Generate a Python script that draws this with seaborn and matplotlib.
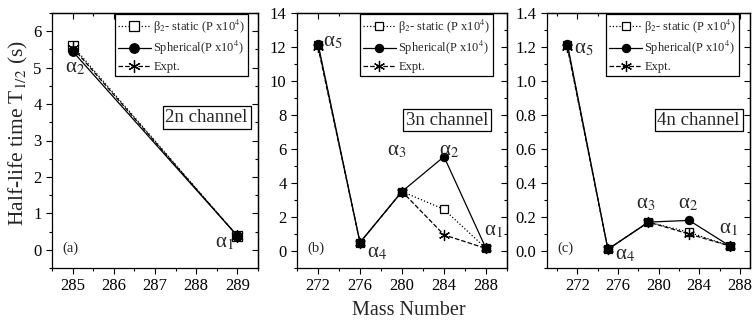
import numpy as np
import matplotlib
matplotlib.use("Agg")
import matplotlib.pyplot as plt
import seaborn as sns
from matplotlib.ticker import MultipleLocator, FormatStrFormatter, NullFormatter

sns.set_theme(style="ticks")
plt.rcParams['font.family'] = ['Liberation Serif', 'DejaVu Serif']
plt.rcParams['mathtext.fontset'] = 'stix'

# ---- data ----
mass_a = [285, 289]
beta_a = [5.60, 0.38]
sph_a = [5.45, 0.38]
expt_a = [5.55, 0.38]

mass_b = [272, 276, 280, 284, 288]
beta_b = [12.1, 0.5, 3.5, 2.45, 0.15]
sph_b = [12.2, 0.5, 3.5, 5.55, 0.15]
expt_b = [12.0, 0.5, 3.5, 0.95, 0.15]

mass_c = [271, 275, 279, 283, 287]
beta_c = [1.21, 0.01, 0.17, 0.11, 0.03]
sph_c = [1.22, 0.01, 0.17, 0.18, 0.03]
expt_c = [1.20, 0.01, 0.17, 0.10, 0.03]

labels_legend = ["β$_2$- static (P x10$^4$)", "Spherical(P x10$^4$)", "Expt."]
channels = ["2n channel", "3n channel", "4n channel"]
panel_tags = ["(a)", "(b)", "(c)"]

alpha_a = [("α$_2$", 285.05, 5.0), ("α$_1$", 288.69, 0.2)]
alpha_b = [("α$_5$", 273.4, 12.3), ("α$_4$", 277.6, -0.1),
           ("α$_3$", 279.5, 5.9), ("α$_2$", 284.5, 5.9),
           ("α$_1$", 288.7, 1.2)]
alpha_c = [("α$_5$", 272.6, 1.19), ("α$_4$", 276.7, -0.02),
           ("α$_3$", 278.7, 0.275), ("α$_2$", 282.9, 0.28),
           ("α$_1$", 286.9, 0.13)]

fig = plt.figure(figsize=(7.52, 3.3), dpi=100)
positions = [(52, 206), (297, 210), (547, 203)]
axes = []
for (l, w) in positions:
    axes.append(fig.add_axes([l / 752, 62 / 330, w / 752, 255 / 330]))

datasets = [(mass_a, beta_a, sph_a, expt_a), (mass_b, beta_b, sph_b, expt_b),
            (mass_c, beta_c, sph_c, expt_c)]
xlims = [(284.5, 289.5), (270, 290), (269, 289)]
ylims = [(-0.5, 6.5), (-1, 14), (-0.1, 1.4)]
xmaj = [1, 4, 4]
xmin = [0.5, 2, 2]
ymaj = [1, 2, 0.2]
ymin = [0.5, 1, 0.1]
yfmt = ["%d", "%d", "%.1f"]
alphas = [alpha_a, alpha_b, alpha_c]
box_x = [0.95, 0.91, 0.95]
box_y = [0.59, 0.58, 0.58]
leg_anchor = [(0.953, 0.995), (0.935, 0.995), (0.948, 0.995)]

asterisk = (6, 2, 0)
for i, ax in enumerate(axes):
    m, b, s, e = datasets[i]
    ms = 7 if i == 0 else 6
    sns.lineplot(x=m, y=b, ax=ax, color='black', linestyle=':', linewidth=0.9,
                 marker='s', markersize=ms, markerfacecolor='white',
                 markeredgecolor='black', markeredgewidth=0.9, label=labels_legend[0])
    sns.lineplot(x=m, y=s, ax=ax, color='black', linestyle='-', linewidth=0.9,
                 marker='o', markersize=ms, markerfacecolor='black',
                 markeredgecolor='black', label=labels_legend[1])
    sns.lineplot(x=m, y=e, ax=ax, color='black', linestyle='--', linewidth=0.9,
                 marker=asterisk, markersize=ms + 2, markeredgecolor='black',
                 markeredgewidth=0.9, label=labels_legend[2])
    ax.set_xlim(*xlims[i])
    ax.set_ylim(*ylims[i])
    ax.xaxis.set_major_locator(MultipleLocator(xmaj[i]))
    ax.xaxis.set_minor_locator(MultipleLocator(xmin[i]))
    ax.yaxis.set_major_locator(MultipleLocator(ymaj[i]))
    ax.yaxis.set_minor_locator(MultipleLocator(ymin[i]))
    ax.yaxis.set_major_formatter(FormatStrFormatter(yfmt[i]))
    ax.tick_params(which='both', direction='out', labelsize=12, colors='black')
    ax.tick_params(which='major', length=4, width=0.8)
    ax.tick_params(which='minor', length=2.5, width=0.8)
    # mirrored inward ticks on top and right
    sx = ax.secondary_xaxis('top')
    sx.xaxis.set_major_locator(MultipleLocator(xmaj[i]))
    sx.xaxis.set_minor_locator(MultipleLocator(xmin[i]))
    sx.xaxis.set_major_formatter(NullFormatter())
    sx.tick_params(which='both', direction='in', width=0.8, colors='black')
    sx.tick_params(which='major', length=4)
    sx.tick_params(which='minor', length=2.5)
    sy = ax.secondary_yaxis('right')
    sy.yaxis.set_major_locator(MultipleLocator(ymaj[i]))
    sy.yaxis.set_minor_locator(MultipleLocator(ymin[i]))
    sy.yaxis.set_major_formatter(NullFormatter())
    sy.tick_params(which='both', direction='in', width=0.8, colors='black')
    sy.tick_params(which='major', length=4)
    sy.tick_params(which='minor', length=2.5)
    for a in (sx, sy):
        for sp in a.spines.values():
            sp.set_color('black')
            sp.set_linewidth(0.9)
    for sp in ax.spines.values():
        sp.set_visible(True)
        sp.set_color('black')
        sp.set_linewidth(0.9)
    ax.set_xlabel("")
    ax.set_ylabel("")
    leg = ax.legend(loc='upper right', bbox_to_anchor=leg_anchor[i], fontsize=9,
                    frameon=True, fancybox=False, edgecolor='black', framealpha=1,
                    borderpad=0.25, labelspacing=0.3, handlelength=2.6,
                    handletextpad=0.2, borderaxespad=0.0)
    leg.get_frame().set_linewidth(0.9)
    ax.text(box_x[i], box_y[i], channels[i], transform=ax.transAxes, ha='right',
            va='center', fontsize=13.5,
            bbox=dict(boxstyle='square,pad=0.15', facecolor='white', edgecolor='black',
                      linewidth=0.9))
    ax.text(0.05, 0.078, panel_tags[i], transform=ax.transAxes, ha='left',
            va='center', fontsize=10.5)
    for (t, x, y) in alphas[i]:
        ax.text(x, y, t, ha='center', va='center', fontsize=15)

fig.text(0.024, 0.597, "Half-life time T$_{1/2}$ (s)", rotation=90, ha='center',
         va='center', fontsize=15.5)
fig.text(0.544, 0.058, "Mass Number", ha='center', va='center', fontsize=14.5)

fig.savefig("out.png", dpi=100)
